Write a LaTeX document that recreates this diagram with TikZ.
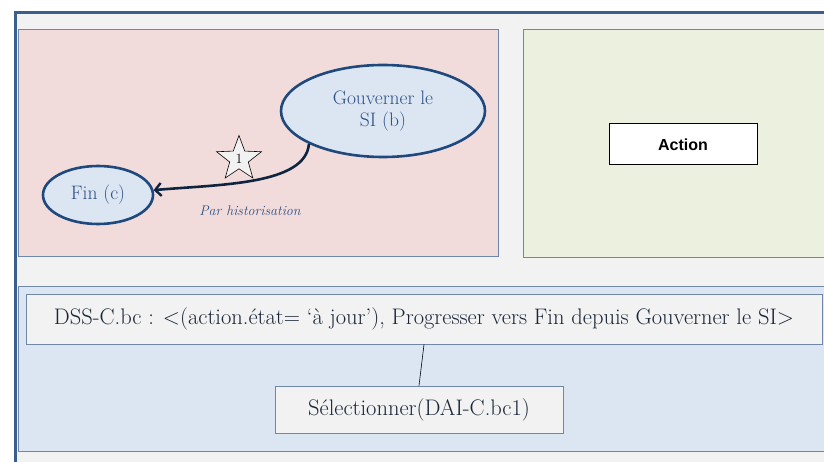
\documentclass[tikz,border=0pt]{standalone}
\usepackage{fontspec}
\usepackage{tikz}
\usetikzlibrary{arrows.meta,shapes.geometric}
\newfontfamily\actionfont{Liberation Sans}
\definecolor{framecol}{HTML}{3A5F8F}
\definecolor{panelline}{HTML}{6F88AA}
\definecolor{pinkfill}{HTML}{F2DCDB}
\definecolor{greenfill}{HTML}{EBF1DE}
\definecolor{bluefill}{HTML}{DCE6F2}
\definecolor{ellline}{HTML}{1F497D}
\definecolor{elltext}{HTML}{2F5085}
\definecolor{boxtext}{HTML}{1A2638}
\definecolor{arrowcol}{HTML}{0F243E}
\definecolor{boxfill}{HTML}{F2F2F2}
\begin{document}
\begin{tikzpicture}[x=1pt,y=-1pt]
\tikzstyle{panel}=[draw=panelline,line width=0.8pt]
\tikzstyle{etat}=[ellipse,draw=ellline,line width=2.6pt,fill=bluefill,text=elltext,inner sep=0pt,font=\fontsize{19.5}{22}\selectfont,align=center]
\tikzstyle{regle}=[rectangle,draw=panelline,line width=0.8pt,fill=boxfill,text=boxtext,inner sep=0pt,font=\fontsize{22.5}{24}\selectfont]
\useasboundingbox (0,0) rectangle (824,462);
\clip (0,0) rectangle (824,462);
% cadre et zones
\draw [framecol,line width=3pt,fill=boxfill] (15,13) rectangle (850,490);
\draw [panel,fill=pinkfill] (18,29) rectangle (498,256);
\draw [panel,fill=greenfill] (523,29) rectangle (840,257);
\draw [panel,fill=bluefill] (18,286) rectangle (840,451);
% etats
\node [etat,minimum width=110pt,minimum height=58pt] (fin) at (98,195) {Fin (c)};
\node [etat,minimum width=204pt,minimum height=92pt] (gouv) at (383,111) {Gouverner le\\SI (b)};
\draw [arrowcol,line width=2.6pt,-{Straight Barb[length=6pt,width=13pt,line width=2.4pt]}] (gouv.204) to [out=-95,in=5,out looseness=0.65,in looseness=1.05] (fin.5);
\node [star,star points=5,star point ratio=2.4,draw=black,line width=0.6pt,fill=boxfill,minimum size=47pt,inner sep=0pt,font=\fontsize{14}{15}\selectfont] (etoile) at (239,159) {1};
\node [text=elltext,font=\fontsize{14}{16}\selectfont\itshape] (histo) at (250,211) {Par historisation};
% action
\node [rectangle,draw=black,line width=1pt,fill=white,minimum width=148pt,minimum height=41pt,inner sep=0pt,font=\actionfont\bfseries\fontsize{16}{18}\selectfont] (action) at (683,144.5) {Action};
% regles
\node [regle,minimum width=796pt,minimum height=50pt] (dss) at (424,319) {DSS-C.bc : <(action.état= ‘à jour’), Progresser vers Fin depuis Gouverner le SI>};
\node [regle,minimum width=288pt,minimum height=47pt] (sel) at (419,409.5) {Sélectionner(DAI-C.bc1)};
\draw [black,line width=0.6pt] (dss.south) -- (sel.north);
\end{tikzpicture}
\end{document}
